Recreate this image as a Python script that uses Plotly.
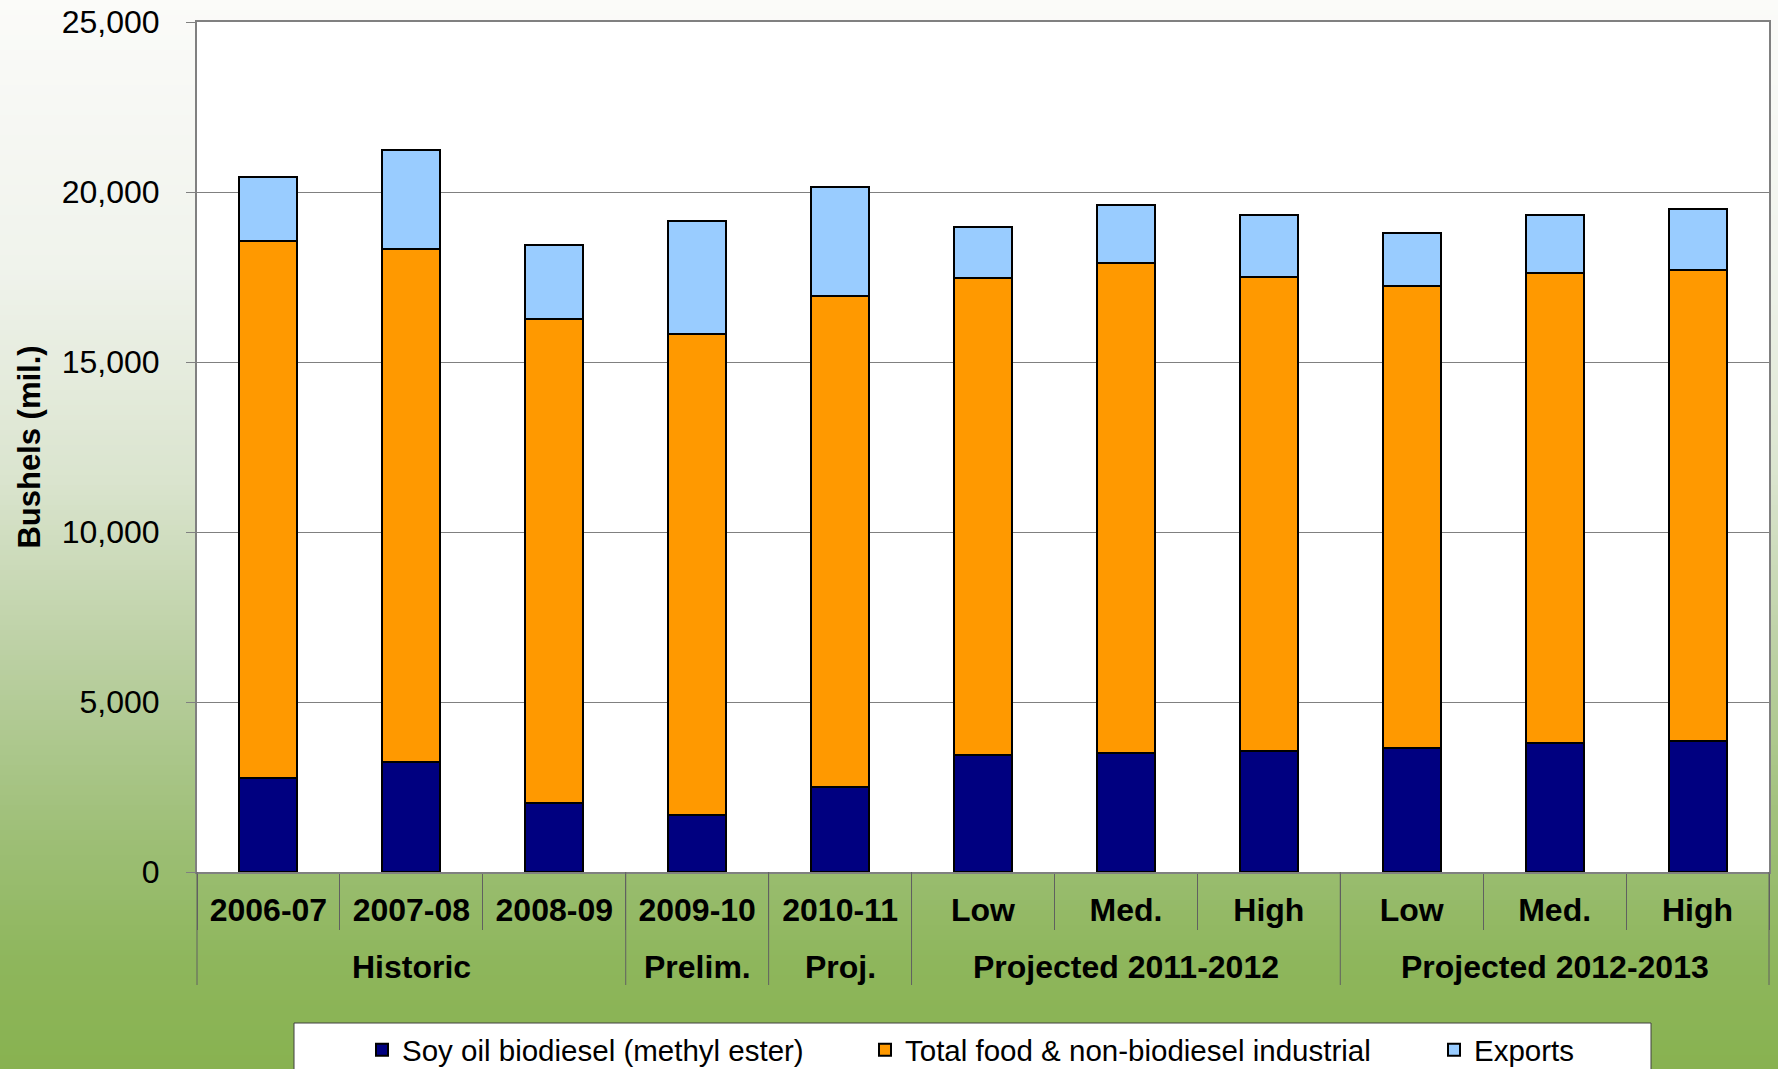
import plotly.graph_objects as go

# ---- data ----
groups = ["Historic", "Historic", "Historic", "Prelim.", "Proj.",
          "Projected 2011-2012", "Projected 2011-2012", "Projected 2011-2012",
          "Projected 2012-2013", "Projected 2012-2013", "Projected 2012-2013"]
categories = ["2006-07", "2007-08", "2008-09", "2009-10", "2010-11",
              "Low", "Med.", "High", "Low", "Med.", "High"]
biodiesel = [2770, 3240, 2020, 1680, 2490, 3450, 3490, 3550, 3640, 3780, 3840]
food = [15800, 15090, 14240, 14130, 14450, 14020, 14410, 13960, 13600, 13840, 13880]
exports = [1860, 2900, 2180, 3350, 3200, 1510, 1710, 1800, 1560, 1700, 1770]
series_names = ["Soy oil biodiesel (methyl ester)",
                "Total food & non-biodiesel industrial",
                "Exports"]
series_colors = ["#000080", "#FF9900", "#99CCFF"]
y_ticks = [0, 5000, 10000, 15000, 20000, 25000]

FONT = "Liberation Sans, Arial, sans-serif"
W, H = 1778, 1069
ML, MR, MT, MB = 197, 9, 22, 197
PW, PH = W - ML - MR, H - MT - MB

def px_x(p):
    return (p - ML) / PW

def px_y(p):
    return (H - MB - p) / PH

n = len(categories)
x_idx = list(range(n))

fig = go.Figure()
legends = ["legend", "legend2", "legend3"]
for vals, name, col, lg in zip([biodiesel, food, exports], series_names, series_colors, legends):
    fig.add_trace(go.Bar(
        x=x_idx, y=vals, name=name,
        marker=dict(color=col, line=dict(color="black", width=2)),
        legend=lg,
    ))

# background gradient (decorative) built from strips
stops = [(0.0, (251, 251, 249)), (0.25, (240, 243, 236)), (0.45, (218, 228, 206)),
         (0.62, (186, 207, 161)), (0.78, (158, 191, 119)), (0.9, (142, 182, 92)),
         (1.0, (136, 178, 80))]

def col_at(t):
    for (t0, c0), (t1, c1) in zip(stops[:-1], stops[1:]):
        if t <= t1:
            f = (t - t0) / (t1 - t0)
            return "rgb(%d,%d,%d)" % tuple(round(a + (b - a) * f) for a, b in zip(c0, c1))
    return "rgb(%d,%d,%d)" % stops[-1][1]

shapes = []
step = 5
for top in range(0, H, step):
    t = (top + step / 2) / H
    shapes.append(dict(type="rect", xref="paper", yref="paper", layer="below",
                       x0=px_x(-2), x1=px_x(W + 2), y0=px_y(top + step + 1), y1=px_y(top),
                       line=dict(width=0), fillcolor=col_at(t)))
# plot area
shapes.append(dict(type="rect", xref="paper", yref="paper", layer="below",
                   x0=0, x1=1, y0=0, y1=1, line=dict(width=0), fillcolor="white"))
# legend box
shapes.append(dict(type="rect", xref="paper", yref="paper", layer="below",
                   x0=px_x(294), x1=px_x(1651), y0=px_y(1080), y1=px_y(1023),
                   line=dict(color="#404040", width=1), fillcolor="white"))

# group spans -> group labels and long dividers
spans = []
start = 0
for i in range(1, n + 1):
    if i == n or groups[i] != groups[start]:
        spans.append((groups[start], start, i - 1))
        start = i

annotations = []
divider_pos = set()
for g, s, e in spans:
    annotations.append(dict(x=(s + e) / 2, xref="x", y=px_y(967), yref="paper",
                            text=g, showarrow=False, yanchor="middle",
                            font=dict(family=FONT, size=32, color="black", weight="bold")))
    divider_pos.add(s - 0.5)
    divider_pos.add(e + 0.5)
for b in sorted(divider_pos):
    xp = (b + 0.5) / n
    shapes.append(dict(type="line", xref="paper", yref="paper", layer="above",
                       x0=xp, x1=xp, y0=0, y1=px_y(985),
                       line=dict(color="#606060", width=1)))

leg_common = dict(orientation="h", bgcolor="rgba(0,0,0,0)", borderwidth=0,
                  font=dict(family=FONT, size=29.5, color="black"),
                  xanchor="left", yanchor="middle", y=px_y(1050))
fig.update_layout(
    width=W, height=H,
    margin=dict(l=ML, r=MR, t=MT, b=MB, autoexpand=False),
    paper_bgcolor="rgba(0,0,0,0)", plot_bgcolor="white",
    barmode="stack", bargap=0.594,
    font=dict(family=FONT, color="black"),
    shapes=shapes,
    annotations=annotations,
    showlegend=True,
    legend=dict(leg_common, x=px_x(362)),
    legend2=dict(leg_common, x=px_x(865)),
    legend3=dict(leg_common, x=px_x(1434)),
    xaxis=dict(
        range=[-0.5, n - 0.5],
        tickmode="array", tickvals=x_idx, ticktext=categories,
        showline=True, linecolor="#808080", linewidth=2, mirror=True,
        ticks="", showgrid=False, zeroline=False,
        tickfont=dict(family=FONT, size=32, color="black", weight="bold"),
        ticklabelstandoff=9,
        minor=dict(tickmode="array", tickvals=[i - 0.5 for i in range(n + 1)],
                   ticks="outside", ticklen=56, tickcolor="#606060", tickwidth=1,
                   showgrid=False),
        automargin=False,
    ),
    yaxis=dict(
        range=[0, 25000], tickvals=y_ticks, tickformat=",",
        showgrid=True, gridcolor="#808080", gridwidth=1,
        showline=True, linecolor="#808080", linewidth=2, mirror=True,
        ticks="outside", ticklen=9, tickcolor="#808080",
        tickfont=dict(family=FONT, size=32, color="black"),
        ticklabelstandoff=20,
        title=dict(text="Bushels (mil.)", standoff=12,
                   font=dict(family=FONT, size=31, color="black", weight="bold")),
        automargin=False, zeroline=False,
    ),
)

fig.write_html("out.html", config={"displayModeBar": False},
               post_script="document.body.style.margin='0px';")
